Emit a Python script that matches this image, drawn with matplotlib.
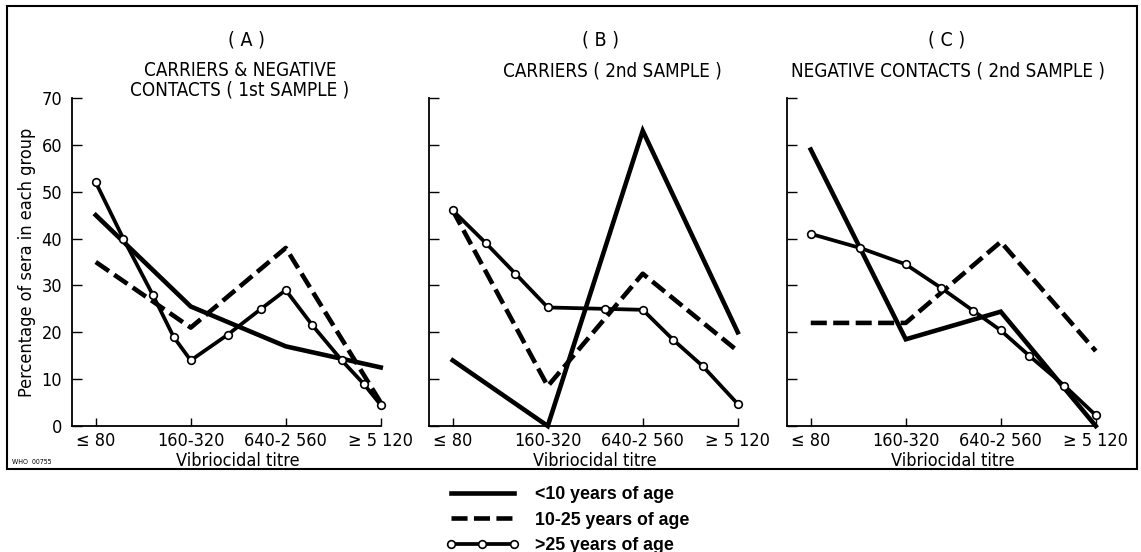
import numpy as np
import matplotlib.pyplot as plt
from matplotlib.patches import Rectangle

# categorias do eixo x
categorias = ['≤ 80', '160-320', '640-2 560', '≥ 5 120']
pos_cat = [0, 1, 2, 3]

# painel A
a_menor10 = [45, 25.5, 17, 12.5]
a_10_25 = [35, 21, 38, 5]
a_maior25_x = [0, 0.29, 0.6, 0.82, 1.0, 1.39, 1.74, 2.0, 2.28, 2.59, 2.82, 3.0]
a_maior25 = [52, 40, 28, 19, 14, 19.5, 25, 29, 21.5, 14, 9, 4.5]

# painel B
b_menor10 = [14, 0, 63, 20]
b_10_25 = [46, 8.5, 32.5, 16]
b_maior25_x = [0, 0.35, 0.66, 1.0, 1.6, 2.0, 2.32, 2.63, 3.0]
b_maior25 = [46, 39, 32.5, 25.3, 25, 24.8, 18.4, 12.8, 4.7]

# painel C
c_menor10 = [59, 18.5, 24.4, 0]
c_10_25 = [22, 22, 39.3, 16]
c_maior25_x = [0, 0.52, 1.0, 1.37, 1.71, 2.0, 2.3, 2.67, 3.0]
c_maior25 = [41, 38, 34.5, 29.5, 24.6, 20.4, 15, 8.6, 2.3]

letras = ['( A )', '( B )', '( C )']
titulos = ['CARRIERS & NEGATIVE\nCONTACTS ( 1st SAMPLE )',
           'CARRIERS ( 2nd SAMPLE )',
           'NEGATIVE CONTACTS ( 2nd SAMPLE )']
legendas = ['<10 years of age', '10-25 years of age', '>25 years of age']

W, H = 1141, 552
plt.rcParams['font.family'] = ['DejaVu Sans']
plt.rcParams['font.stretch'] = 'condensed'

fig = plt.figure(figsize=(W / 100, H / 100), dpi=100)

def px(x, y):
    return x / W, 1 - y / H

# moldura
fig.patches.append(Rectangle(px(7, 469), 1130 / W, 463 / H, transform=fig.transFigure,
                             fill=False, lw=1.5, ec='black'))

esquerdas = [72, 429, 787]
letra_x = [246, 600, 947]
titulo_x = [240, 612, 948]
dados = [
    (a_menor10, a_10_25, a_maior25_x, a_maior25),
    (b_menor10, b_10_25, b_maior25_x, b_maior25),
    (c_menor10, c_10_25, c_maior25_x, c_maior25),
]

y0, y70 = 426, 98
linhas = None
for i, (m10, m1025, gx, g25) in enumerate(dados):
    ax = fig.add_axes([esquerdas[i] / W, (H - y0) / H, 3.25 * 95 / W, (y0 - y70) / H])
    l1, = ax.plot(pos_cat, m10, color='black', lw=3.3, solid_joinstyle='miter', clip_on=False)
    l2, = ax.plot(pos_cat, m1025, color='black', lw=3.3, dashes=(3.5, 1.4), clip_on=False)
    l3, = ax.plot(gx, g25, color='black', lw=2.7, marker='o', ms=5.5, mfc='white',
                  mec='black', mew=1.2, clip_on=False, zorder=3)
    if linhas is None:
        linhas = [l1, l2, l3]

    ax.set_xlim(-0.25, 3.0)
    ax.set_ylim(0, 70)
    ax.set_xticks(pos_cat)
    ax.set_xticklabels(categorias, fontsize=13)
    ax.set_yticks(np.arange(0, 71, 10))
    ax.tick_params(axis='x', direction='in', length=6, width=1, pad=4)
    ax.tick_params(axis='y', direction='in', length=7, width=1, pad=7, labelsize=13)
    if i > 0:
        ax.set_yticklabels([])
    else:
        ax.set_ylabel('Percentage of sera in each group', fontsize=13)
        ax.yaxis.set_label_coords(-0.145, 0.5)
        ax.yaxis.label.set_va('center')
    for lado in ['top', 'right']:
        ax.spines[lado].set_visible(False)
    for lado in ['left', 'bottom']:
        ax.spines[lado].set_linewidth(1.3)
    ax.set_facecolor('none')

    ax.set_xlabel('Vibriocidal titre', fontsize=13)
    ax.xaxis.set_label_coords(1.75 / 3.25, -(461 - y0) / (y0 - y70))
    ax.xaxis.label.set_va('center')

    fig.text(*px(letra_x[i], 40), letras[i], ha='center', va='center', fontsize=14)
    fig.text(*px(titulo_x[i], 80 if i == 0 else 71), titulos[i], ha='center', va='center',
             fontsize=13.5, linespacing=1.05)

fig.text(*px(12, 462), 'WHO  00755', fontsize=5, va='center')

fig.legend(linhas, legendas, loc='upper left', bbox_to_anchor=px(446, 486),
           frameon=False, numpoints=3, handlelength=4.1, handletextpad=0.9,
           labelspacing=0.48, borderpad=0, borderaxespad=0,
           prop={'family': 'Liberation Sans', 'weight': 'bold', 'size': 12.8,
                 'stretch': 'normal'})

fig.savefig('out.png', dpi=100)
